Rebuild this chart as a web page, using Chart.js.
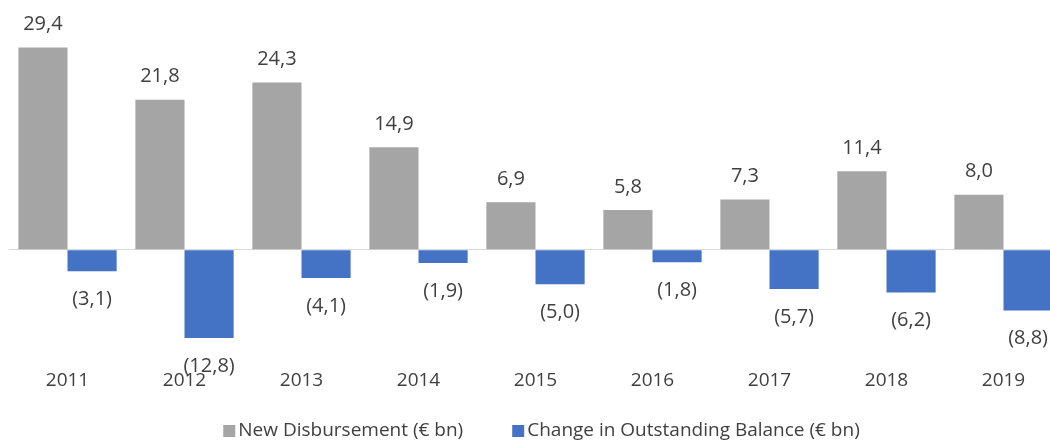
<!DOCTYPE html>
<html>
<head>
<meta charset="utf-8">
<script src="https://cdn.jsdelivr.net/npm/chart.js@4/dist/chart.umd.min.js"></script>
<style>
html,body{margin:0;padding:0;background:#fff;overflow:hidden;width:1050px;height:440px;}
canvas{display:block;}
</style>
</head>
<body>
<canvas id="c" width="1064" height="440"></canvas>
<script>
const categories = ['2011','2012','2013','2014','2015','2016','2017','2018','2019'];
const newDisbursement = [29.4, 21.8, 24.3, 14.9, 6.9, 5.8, 7.3, 11.4, 8.0];
const changeOutstanding = [-3.1, -12.8, -4.1, -1.9, -5.0, -1.8, -5.7, -6.2, -8.8];
const seriesNames = ['New Disbursement (€ bn)', 'Change in Outstanding Balance (€ bn)'];
const seriesColors = ['#a5a5a5', '#4472c4'];

const FONT = '"Open Sans", "DejaVu Sans", sans-serif';
const TEXT = '#404040';

function fmt(v){
  const s = Math.abs(v).toFixed(1).replace('.', ',');
  return v < 0 ? '(' + s + ')' : s;
}

const labelPlugin = {
  id: 'valueLabels',
  afterDatasetsDraw(chart){
    const ctx = chart.ctx;
    ctx.save();
    ctx.font = '20px ' + FONT;
    ctx.fillStyle = TEXT;
    ctx.textAlign = 'center';
    ctx.textBaseline = 'middle';
    chart.data.datasets.forEach((ds, di) => {
      const meta = chart.getDatasetMeta(di);
      meta.data.forEach((el, i) => {
        const v = ds.data[i];
        const y = v >= 0 ? el.y - 23 : el.y + 28;
        ctx.fillText(fmt(v), el.x, y);
      });
    });
    ctx.restore();
  }
};

const legendPlugin = {
  id: 'customLegend',
  afterDraw(chart){
    const ctx = chart.ctx;
    ctx.save();
    ctx.font = '19px ' + FONT;
    ctx.textBaseline = 'middle';
    ctx.textAlign = 'left';
    const box = 12, gapBox = 3, gapItem = 49;
    const items = chart.data.datasets.map(d => ({label: d.label, color: d.backgroundColor}));
    let total = 0;
    items.forEach((it, i) => {
      it.w = ctx.measureText(it.label).width;
      total += box + gapBox + it.w + (i < items.length - 1 ? gapItem : 0);
    });
    let x = 1083 / 2 - total / 2;
    const yc = 431;
    items.forEach(it => {
      ctx.fillStyle = it.color;
      ctx.fillRect(x, yc - box / 2, box, box);
      ctx.fillStyle = TEXT;
      ctx.fillText(it.label, x + box + gapBox, yc);
      x += box + gapBox + it.w + gapItem;
    });
    ctx.restore();
  }
};

new Chart(document.getElementById('c'), {
  type: 'bar',
  data: {
    labels: categories,
    datasets: [
      {label: seriesNames[0], data: newDisbursement, backgroundColor: seriesColors[0],
       barPercentage: 1.0, categoryPercentage: 0.84},
      {label: seriesNames[1], data: changeOutstanding, backgroundColor: seriesColors[1],
       barPercentage: 1.0, categoryPercentage: 0.84}
    ]
  },
  options: {
    responsive: false,
    animation: false,
    layout: {padding: {left: 9, right: 2, top: 2, bottom: 33}},
    plugins: {
      legend: {display: false},
      tooltip: {enabled: false}
    },
    scales: {
      x: {
        grid: {display: false},
        border: {display: false},
        ticks: {color: TEXT, font: {family: FONT, size: 19}, padding: 15}
      },
      y: {
        min: -14, max: 36,
        border: {display: false},
        ticks: {display: false, stepSize: 2},
        grid: {
          drawTicks: false,
          color: c => c.tick && c.tick.value === 0 ? '#d9d9d9' : 'rgba(0,0,0,0)',
          lineWidth: 1
        }
      }
    }
  },
  plugins: [labelPlugin, legendPlugin]
});
</script>
</body>
</html>
